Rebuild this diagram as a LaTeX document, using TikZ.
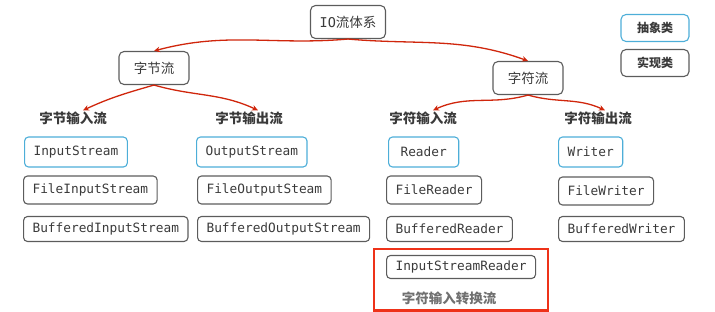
\documentclass[tikz,border=0pt]{standalone}
\usepackage{fontspec}
\usepackage{tikz}
\usetikzlibrary{arrows.meta,positioning,fit}
\newfontfamily\cjk{Noto Sans CJK SC}
\newfontfamily\codefont{DejaVu Sans Mono}
\definecolor{ioText}{HTML}{3A3A3A}
\definecolor{ioFrame}{HTML}{5C5C5C}
\definecolor{ioBlue}{HTML}{4DAED8}
\definecolor{ioRed}{HTML}{D0260C}
\definecolor{ioMark}{HTML}{EE3219}
\definecolor{ioNote}{HTML}{707070}

\begin{document}
\begin{tikzpicture}[x=1pt, y=-1pt,
    catbox/.style={draw=ioFrame, line width=1.1pt, rounded corners=5pt, text=ioText,
      font=\cjk\fontsize{13.5}{16}\selectfont, minimum width=70pt, minimum height=33pt},
    legendbox/.style={draw=ioFrame, line width=1.1pt, rounded corners=5pt, text=ioText,
      font=\cjk\bfseries\fontsize{12}{14}\selectfont, minimum width=68pt, minimum height=27pt},
    grouplabel/.style={text=ioText, font=\cjk\bfseries\fontsize{13.5}{16}\selectfont, inner sep=1pt},
    classbox/.style={draw=ioFrame, line width=1.1pt, rounded corners=4pt, text=ioText,
      font=\codefont\fontsize{12.8}{15}\selectfont, anchor=west, inner xsep=9pt, minimum height=28pt},
    abstractbox/.style={classbox, draw=ioBlue, minimum height=30pt},
    flowarrow/.style={draw=ioRed, line width=1.3pt, -{Stealth[length=6pt,width=5.5pt]}}
  ]
    \useasboundingbox (0,0) rectangle (715,311);

    % top levels
    \node[catbox, minimum width=75pt] (io) at (348,22) {{\codefont IO}流体系};
    \node[catbox] (byteStream) at (154,68) {字节流};
    \node[catbox] (charStream) at (528,78) {字符流};

    % legend
    \node[legendbox, draw=ioBlue] (legendAbstract) at (655,28) {抽象类};
    \node[legendbox] (legendImpl) at (655,63) {实现类};

    % group labels
    \node[grouplabel] (byteIn) at (73,118) {字节输入流};
    \node[grouplabel] (byteOut) at (249,118) {字节输出流};
    \node[grouplabel] (charIn) at (423,118) {字符输入流};
    \node[grouplabel] (charOut) at (598,118) {字符输出流};

    % byte input column
    \node[abstractbox] (inputStream) at (24,152) {InputStream};
    \node[classbox] (fileInputStream) at (23,190) {FileInputStream};
    \node[classbox, minimum height=25pt] (bufferedInputStream) at (23,229) {BufferedInputStream};

    % byte output column
    \node[abstractbox] (outputStream) at (196,152) {OutputStream};
    \node[classbox] (fileOutputSteam) at (197,190) {FileOutputSteam};
    \node[classbox, minimum height=25pt] (bufferedOutputStream) at (197,229) {BufferedOutputStream};

    % char input column
    \node[abstractbox, inner xsep=12pt] (reader) at (388,152) {Reader};
    \node[classbox] (fileReader) at (386,190) {FileReader};
    \node[classbox, minimum height=25pt] (bufferedReader) at (386,229) {BufferedReader};
    \node[classbox, minimum height=23pt] (inputStreamReader) at (386,267) {InputStreamReader};
    \node[grouplabel, text=ioNote, inner sep=0pt] (convLabel) at (449,298) {字符输入转换流};
    \node[draw=ioMark, line width=2.6pt, inner xsep=12pt, inner ysep=6pt,
      fit=(inputStreamReader)(convLabel)] (convFrame) {};

    % char output column
    \node[abstractbox] (writer) at (558,152) {Writer};
    \node[classbox] (fileWriter) at (558,191) {FileWriter};
    \node[classbox, minimum height=25pt] (bufferedWriter) at (558,229) {BufferedWriter};

    % arrows
    \draw[flowarrow] (io.south) to[out=185, in=15] (byteStream.north);
    \draw[flowarrow] (io.south) to[out=-5, in=160] (charStream.north);
    \draw[flowarrow] (byteStream.south) to[out=196, in=25] ([xshift=10pt]byteIn.north);
    \draw[flowarrow] (byteStream.south) to[out=-16, in=155] ([xshift=9pt]byteOut.north);
    \draw[flowarrow] (charStream.south) to[out=196, in=25] ([xshift=10pt]charIn.north);
    \draw[flowarrow] (charStream.south) to[out=-16, in=155] ([xshift=7pt]charOut.north);
  \end{tikzpicture}
\end{document}
